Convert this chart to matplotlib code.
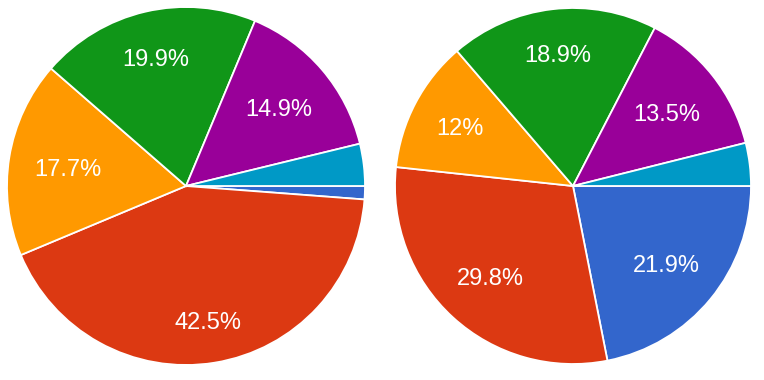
import numpy as np
import matplotlib.pyplot as plt

# datos de cada tarta (sentido horario desde las 3 en punto)
categories = ["A", "B", "C", "D", "E", "F"]
left_values = [1.2, 42.5, 17.7, 19.9, 14.9, 3.8]
right_values = [21.9, 29.8, 12.0, 18.9, 13.5, 3.9]
colors = ["#3366cc", "#dc3912", "#ff9900", "#109618", "#990099", "#0099c6"]

# distancia radial de cada etiqueta (estilo, no datos)
left_dist = [0.7, 0.76, 0.67, 0.74, 0.68, 0.7]
right_dist = [0.68, 0.69, 0.72, 0.75, 0.67, 0.7]


def fmt(pct):
    if pct < 5:
        return ""
    s = f"{pct:.1f}"
    if s.endswith(".0"):
        s = s[:-2]
    return s + "%"


fig = plt.figure(figsize=(7.64, 3.8), dpi=100)
W, H = 764, 380

# (centro x, centro y desde arriba, radio) en pixeles
layout = [(186, 186, 179, left_values, left_dist),
          (573, 186, 178, right_values, right_dist)]

for cx, cy, r, vals, dists in layout:
    ax = fig.add_axes([(cx - r) / W, (H - cy - r) / H, 2 * r / W, 2 * r / H])
    wedges, texts, autotexts = ax.pie(
        vals, colors=colors, startangle=0, counterclock=False,
        autopct=fmt, pctdistance=0.71, radius=1,
        wedgeprops=dict(edgecolor="white", linewidth=1.3),
        textprops=dict(color="white", fontsize=17, family="Liberation Sans"),
    )
    # recolocar etiquetas
    for w, t, d in zip(wedges, autotexts, dists):
        ang = np.deg2rad((w.theta1 + w.theta2) / 2)
        t.set_position((d * np.cos(ang), d * np.sin(ang) - 0.016))
    ax.set_xlim(-1.0, 1.0)
    ax.set_ylim(-1.0, 1.0)
    ax.set_aspect("equal")
    ax.axis("off")

fig.savefig("out.png", dpi=100, facecolor="white")
